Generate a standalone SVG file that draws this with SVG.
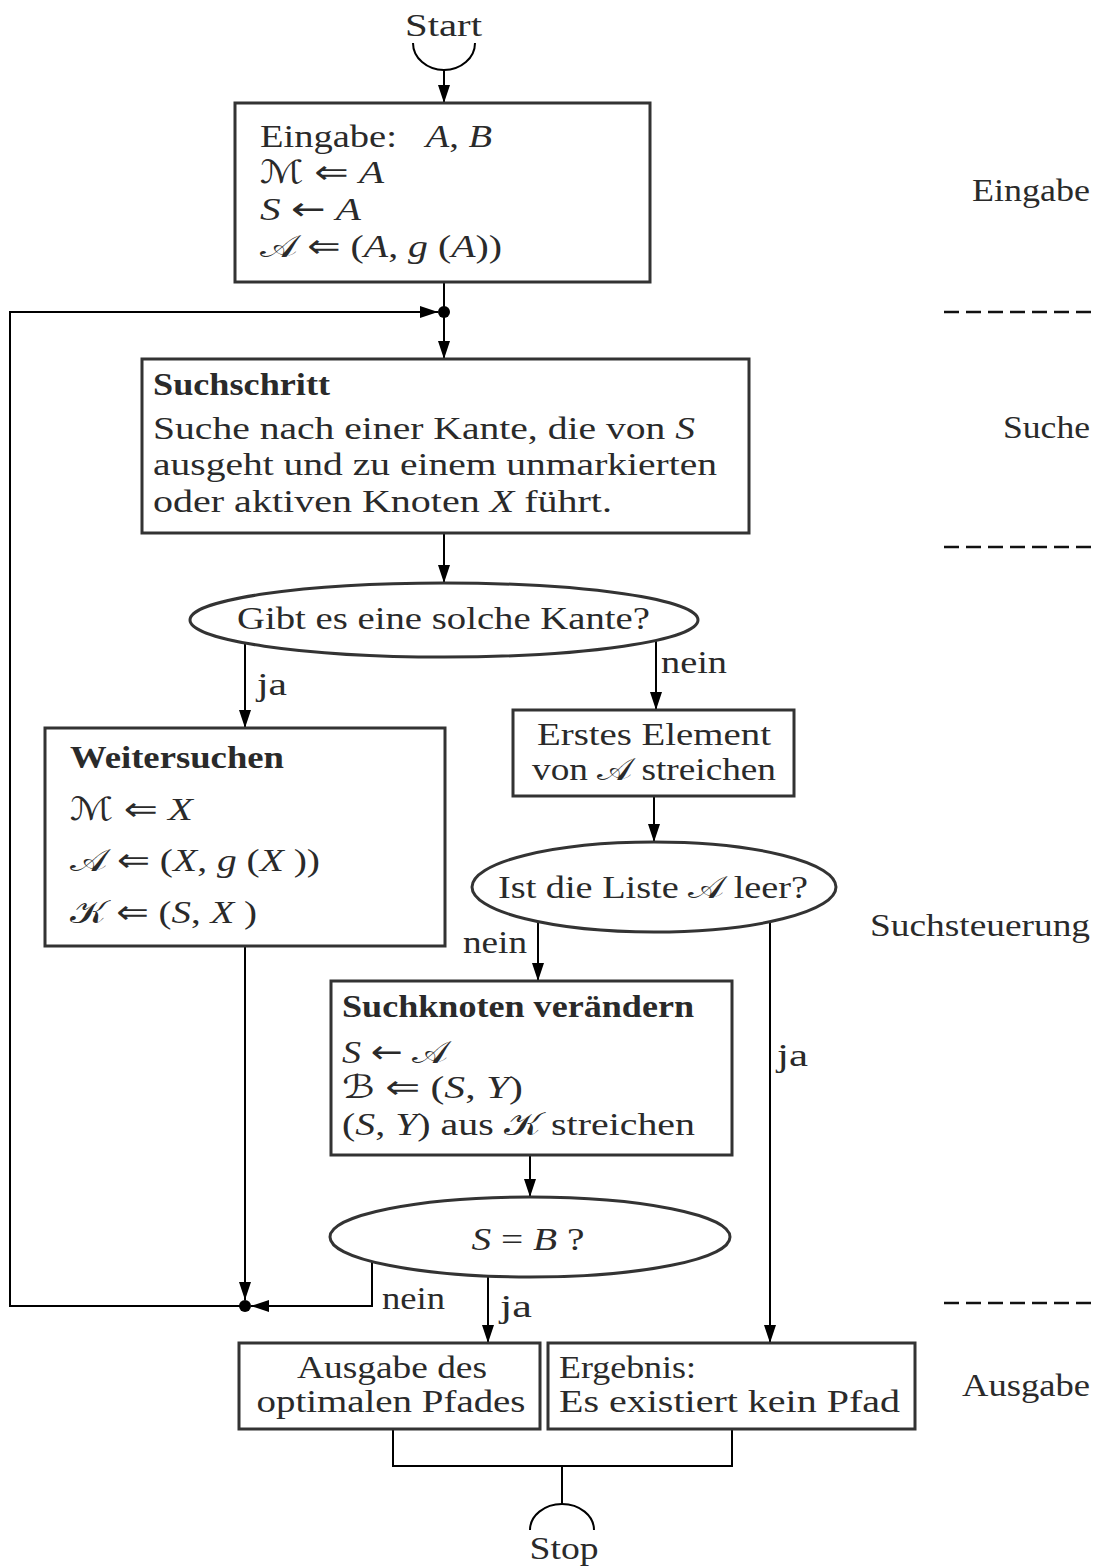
<svg xmlns="http://www.w3.org/2000/svg" width="1103" height="1566" viewBox="0 0 1103 1566">
  <style>
    .t { font-family: "Liberation Serif", "DejaVu Serif", serif; font-size: 32px; fill: #2a2a2a; }
    .b { font-weight: bold; }
    .i { font-style: italic; }
    .cal { font-family: "DejaVu Sans", "DejaVu Serif", serif; font-style: normal; }
    .sym { font-family: "DejaVu Sans", sans-serif; font-style: normal; }
    .box { fill: #fff; stroke: #333; stroke-width: 3; }
    .ln { fill: none; stroke: #000; stroke-width: 2; }
    .arr { marker-end: url(#ah); }
    .sep { fill: none; stroke: #111; stroke-width: 2.5; stroke-dasharray: 15 7; }
  </style>
  <defs>
    <marker id="ah" markerUnits="userSpaceOnUse" markerWidth="18" markerHeight="12" refX="18" refY="6" orient="auto">
      <path d="M0,0 L18,6 L0,12 z" fill="#000"/>
    </marker>
  </defs>

  <rect width="1103" height="1566" fill="#fff"/>

  <!-- connectors -->
  <g id="connectors">
    <path class="ln" d="M413,43 A31,27 0 0 0 475,43"/>
    <path class="ln arr" d="M444,70 V103"/>
    <path class="ln arr" d="M444,282 V359"/>
    <path class="ln arr" d="M245,1306 H10 V312 H438"/>
    <path class="ln arr" d="M444,533 V583"/>
    <path class="ln arr" d="M245,643 V728"/>
    <path class="ln arr" d="M656,640 V710"/>
    <path class="ln arr" d="M654,796 V842"/>
    <path class="ln arr" d="M538,922 V981"/>
    <path class="ln arr" d="M770,921 V1343"/>
    <path class="ln arr" d="M245,946 V1300"/>
    <path class="ln arr" d="M530,1155 V1197"/>
    <path class="ln arr" d="M372,1262 V1306 H251"/>
    <path class="ln arr" d="M488,1276 V1343"/>
    <path class="ln" d="M393,1429 V1466 H732 V1429 M562,1466 V1504"/>
    <path class="ln" d="M530,1530 A32,26 0 0 1 594,1530"/>
    <circle cx="444" cy="312" r="6" fill="#000"/>
    <circle cx="245" cy="1306" r="6" fill="#000"/>
    <text class="t" x="257" y="695" textLength="30" lengthAdjust="spacingAndGlyphs">ja</text>
    <text class="t" x="661" y="673" textLength="66" lengthAdjust="spacingAndGlyphs">nein</text>
    <text class="t" x="463" y="953" textLength="64" lengthAdjust="spacingAndGlyphs">nein</text>
    <text class="t" x="777" y="1066" textLength="31" lengthAdjust="spacingAndGlyphs">ja</text>
    <text class="t" x="382" y="1309" textLength="63" lengthAdjust="spacingAndGlyphs">nein</text>
    <text class="t" x="500" y="1317" textLength="32" lengthAdjust="spacingAndGlyphs">ja</text>
  </g>

  <g id="start">
    <text class="t" x="443.5" y="36" text-anchor="middle" textLength="77" lengthAdjust="spacingAndGlyphs">Start</text>
  </g>

  <g id="eingabe">
    <rect class="box" x="235" y="103" width="415" height="179"/>
    <text class="t" x="260" y="147" textLength="232" lengthAdjust="spacingAndGlyphs">Eingabe:&#160;&#160; <tspan class="i">A</tspan>, <tspan class="i">B</tspan></text>
    <text class="t" x="260" y="183" textLength="124" lengthAdjust="spacingAndGlyphs"><tspan class="cal">ℳ</tspan> <tspan class="sym">⇐</tspan> <tspan class="i">A</tspan></text>
    <text class="t" x="260" y="220" textLength="101" lengthAdjust="spacingAndGlyphs"><tspan class="i">S</tspan> <tspan class="sym">←</tspan> <tspan class="i">A</tspan></text>
    <text class="t" x="260" y="257" textLength="242" lengthAdjust="spacingAndGlyphs"><tspan class="cal">𝒜</tspan> <tspan class="sym">⇐</tspan> (<tspan class="i">A</tspan>, <tspan class="i">g</tspan> (<tspan class="i">A</tspan>))</text>
  </g>

  <g id="suchschritt">
    <rect class="box" x="142" y="359" width="607" height="174"/>
    <text class="t b" x="153" y="395" textLength="177" lengthAdjust="spacingAndGlyphs">Suchschritt</text>
    <text class="t" x="153" y="439" textLength="542" lengthAdjust="spacingAndGlyphs">Suche nach einer Kante, die von <tspan class="i">S</tspan></text>
    <text class="t" x="153" y="475" textLength="564" lengthAdjust="spacingAndGlyphs">ausgeht und zu einem unmarkierten</text>
    <text class="t" x="153" y="512" textLength="459" lengthAdjust="spacingAndGlyphs">oder aktiven Knoten <tspan class="i">X</tspan> führt.</text>
  </g>

  <g id="frage-kante">
    <ellipse class="box" cx="444" cy="620" rx="254" ry="37"/>
    <text class="t" x="443.5" y="629" text-anchor="middle" textLength="413" lengthAdjust="spacingAndGlyphs">Gibt es eine solche Kante?</text>
  </g>

  <g id="weitersuchen">
    <rect class="box" x="45" y="728" width="400" height="218"/>
    <text class="t b" x="70" y="768" textLength="214" lengthAdjust="spacingAndGlyphs">Weitersuchen</text>
    <text class="t" x="70" y="820" textLength="123" lengthAdjust="spacingAndGlyphs"><tspan class="cal">ℳ</tspan> <tspan class="sym">⇐</tspan> <tspan class="i">X</tspan></text>
    <text class="t" x="70" y="871" textLength="250" lengthAdjust="spacingAndGlyphs"><tspan class="cal">𝒜</tspan> <tspan class="sym">⇐</tspan> (<tspan class="i">X</tspan>, <tspan class="i">g</tspan> (<tspan class="i">X</tspan> ))</text>
    <text class="t" x="70" y="923" textLength="187" lengthAdjust="spacingAndGlyphs"><tspan class="cal">𝒦</tspan> <tspan class="sym">⇐</tspan> (<tspan class="i">S</tspan>, <tspan class="i">X</tspan> )</text>
  </g>

  <g id="erstes-element">
    <rect class="box" x="513" y="710" width="281" height="86"/>
    <text class="t" x="654" y="745" text-anchor="middle" textLength="234" lengthAdjust="spacingAndGlyphs">Erstes Element</text>
    <text class="t" x="654" y="780" text-anchor="middle" textLength="244" lengthAdjust="spacingAndGlyphs">von <tspan class="cal">𝒜</tspan> streichen</text>
  </g>

  <g id="frage-leer">
    <ellipse class="box" cx="654" cy="887" rx="182" ry="45"/>
    <text class="t" x="653" y="898" text-anchor="middle" textLength="310" lengthAdjust="spacingAndGlyphs">Ist die Liste <tspan class="cal">𝒜</tspan> leer?</text>
  </g>

  <g id="suchknoten">
    <rect class="box" x="331" y="981" width="401" height="174"/>
    <text class="t b" x="342" y="1017" textLength="352" lengthAdjust="spacingAndGlyphs">Suchknoten verändern</text>
    <text class="t" x="342" y="1063" textLength="106" lengthAdjust="spacingAndGlyphs"><tspan class="i">S</tspan> <tspan class="sym">←</tspan> <tspan class="cal">𝒜</tspan></text>
    <text class="t" x="342" y="1098" textLength="181" lengthAdjust="spacingAndGlyphs"><tspan class="cal">ℬ</tspan> <tspan class="sym">⇐</tspan> (<tspan class="i">S</tspan>, <tspan class="i">Y</tspan>)</text>
    <text class="t" x="342" y="1135" textLength="353" lengthAdjust="spacingAndGlyphs">(<tspan class="i">S</tspan>, <tspan class="i">Y</tspan>) aus <tspan class="cal">𝒦</tspan> streichen</text>
  </g>

  <g id="frage-ziel">
    <ellipse class="box" cx="530" cy="1237" rx="200" ry="40"/>
    <text class="t" x="528" y="1250" text-anchor="middle" textLength="113" lengthAdjust="spacingAndGlyphs"><tspan class="i">S</tspan> = <tspan class="i">B</tspan> ?</text>
  </g>

  <g id="ausgabe-pfad">
    <rect class="box" x="239" y="1343" width="301" height="86"/>
    <text class="t" x="392" y="1378" text-anchor="middle" textLength="190" lengthAdjust="spacingAndGlyphs">Ausgabe des</text>
    <text class="t" x="391" y="1412" text-anchor="middle" textLength="269" lengthAdjust="spacingAndGlyphs">optimalen Pfades</text>
  </g>

  <g id="kein-pfad">
    <rect class="box" x="548" y="1343" width="367" height="86"/>
    <text class="t" x="559" y="1378" textLength="137" lengthAdjust="spacingAndGlyphs">Ergebnis:</text>
    <text class="t" x="559" y="1412" textLength="341" lengthAdjust="spacingAndGlyphs">Es existiert kein Pfad</text>
  </g>

  <g id="stop">
    <text class="t" x="564" y="1559" text-anchor="middle" textLength="69" lengthAdjust="spacingAndGlyphs">Stop</text>
  </g>

  <!-- phase labels and separators -->
  <g id="phasen">
    <text class="t" x="1090" y="201" text-anchor="end" textLength="118" lengthAdjust="spacingAndGlyphs">Eingabe</text>
    <text class="t" x="1090" y="438" text-anchor="end" textLength="87" lengthAdjust="spacingAndGlyphs">Suche</text>
    <text class="t" x="1090" y="936" text-anchor="end" textLength="220" lengthAdjust="spacingAndGlyphs">Suchsteuerung</text>
    <text class="t" x="1090" y="1396" text-anchor="end" textLength="128" lengthAdjust="spacingAndGlyphs">Ausgabe</text>
    <path class="sep" d="M944,312 H1091 M944,547 H1091 M944,1303 H1091"/>
  </g>
</svg>
